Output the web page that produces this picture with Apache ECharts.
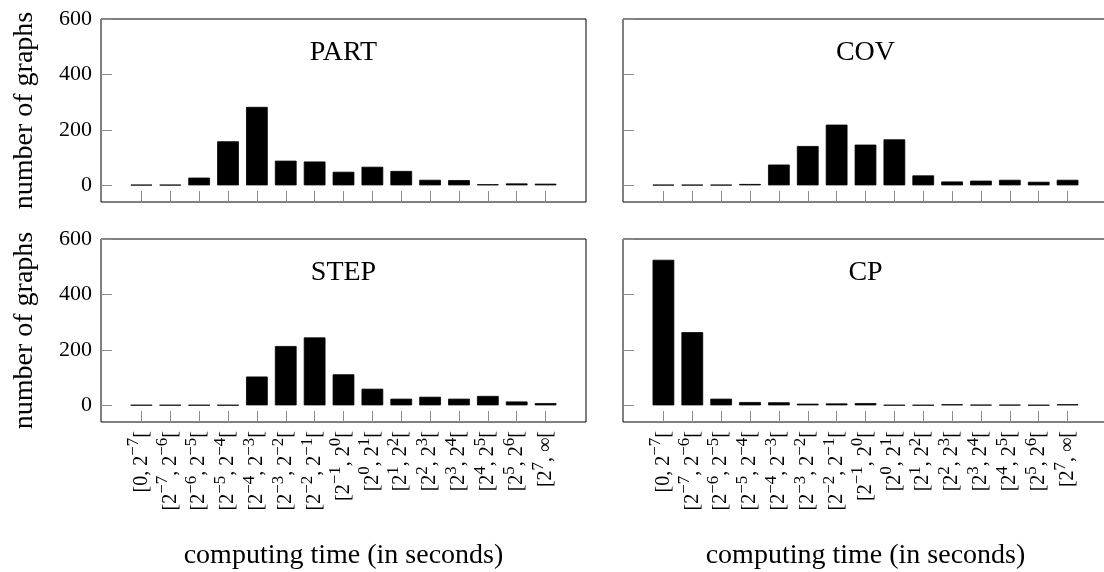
<!DOCTYPE html>
<html>
<head>
<meta charset="utf-8">
<script src="https://cdn.jsdelivr.net/npm/echarts@6.0.0/dist/echarts.min.js"></script>
<style>
  html, body { margin: 0; padding: 0; background: #fff; }
  #chart { width: 1104px; height: 572px; }
</style>
</head>
<body>
<div id="chart"></div>
<script>
// 计算时间区间（原图缺少 [2^6, 2^7[ 这一项，照原样保留）
var tickLabels = ['[0, 2^{−7}[', '[2^{−7}, 2^{−6}[', '[2^{−6}, 2^{−5}[', '[2^{−5}, 2^{−4}[',
  '[2^{−4}, 2^{−3}[', '[2^{−3}, 2^{−2}[', '[2^{−2}, 2^{−1}[', '[2^{−1}, 2^{0}[',
  '[2^{0}, 2^{1}[', '[2^{1}, 2^{2}[', '[2^{2}, 2^{3}[', '[2^{3}, 2^{4}[',
  '[2^{4}, 2^{5}[', '[2^{5}, 2^{6}[', '[2^{7}, ∞['];
var yTicks = [0, 200, 400, 600];

var panelNames = ['PART', 'COV', 'STEP', 'CP'];
var partValues = [2, 2, 28, 159, 283, 89, 86, 49, 67, 52, 20, 19, 4, 7, 6];
var covValues  = [2, 2, 2, 5, 75, 142, 219, 147, 166, 36, 14, 17, 20, 13, 20];
var stepValues = [1, 1, 1, 1, 104, 214, 245, 112, 60, 24, 31, 24, 34, 14, 8];
var cpValues   = [525, 264, 24, 12, 11, 6, 7, 8, 1, 1, 4, 2, 2, 1, 4];
var panelValues = [partValues, covValues, stepValues, cpValues];

var FONT = '"Liberation Serif", "DejaVu Serif", serif';
var tickIdx = tickLabels.map(function (s, i) { return i; });

function richLabel(s) {// 把 ^{..} 变成上标
  return '{n|' + s.replace(/\^\{([^}]*)\}/g, '}{s|$1}{n|') + '}';
}

var grids = [], xAxes = [], yAxes = [], series = [];
var pos = [[101, 19], [623, 19], [101, 239], [623, 239]];
for (var p = 0; p < 4; p++) {
  var isLeft = (p % 2 === 0), isBottom = (p >= 2);
  grids.push({
    left: pos[p][0], top: pos[p][1], width: 485, height: 183,
    show: true, borderColor: '#000', borderWidth: 1,
    outerBoundsMode: 'none'
  });
  xAxes.push({
    type: 'value', gridIndex: p, min: -1.4, max: 15.4,
    axisLine: {show: false, onZero: false},
    splitLine: {show: false},
    axisTick: {show: true, inside: true, length: 11, customValues: tickIdx,
      lineStyle: {color: '#8c8c8c', width: 1}},
    axisLabel: {
      show: isBottom, customValues: tickIdx, rotate: 90, margin: 9,
      fontFamily: FONT, color: '#000',
      formatter: function (v) { return richLabel(tickLabels[Math.round(v)]); },
      rich: {
        n: {fontFamily: FONT, fontSize: 20, lineHeight: 32, color: '#000'},
        s: {fontFamily: FONT, fontSize: 17, lineHeight: 15, verticalAlign: 'top', color: '#000'}
      }
    },
    name: isBottom ? 'computing time (in seconds)' : '',
    nameLocation: 'middle', nameGap: 120,
    nameTextStyle: {fontFamily: FONT, fontSize: 28, color: '#000'}
  });
  yAxes.push({
    type: 'value', gridIndex: p, min: -60, max: 600,
    axisLine: {show: false, onZero: false},
    splitLine: {show: false},
    axisTick: {show: true, inside: true, length: 11, customValues: yTicks,
      lineStyle: {color: '#8c8c8c', width: 1}},
    axisLabel: {show: isLeft, customValues: yTicks, margin: 9,
      fontFamily: FONT, fontSize: 22, color: '#000'},
    name: isLeft ? 'number of graphs' : '',
    nameLocation: 'middle', nameRotate: 90, nameGap: 62,
    nameTextStyle: {fontFamily: FONT, fontSize: 28, color: '#000'}
  });
  series.push({
    name: panelNames[p], type: 'bar', xAxisIndex: p, yAxisIndex: p,
    barWidth: 21.7, silent: true,
    itemStyle: {color: '#000', borderColor: '#000', borderWidth: 0.8},
    data: panelValues[p].map(function (v, i) { return [i, v]; })
  });
}

var myChart = echarts.init(document.getElementById('chart'));
myChart.setOption({
  animation: false,
  grid: grids,
  xAxis: xAxes,
  yAxis: yAxes,
  series: series
});

// 面板标题放在第 8 个区间正上方
var titles = [];
for (var k = 0; k < 4; k++) {
  var pt = myChart.convertToPixel({gridIndex: k}, [7, 478]);
  titles.push({
    type: 'text', x: pt[0], y: pt[1],
    style: {text: panelNames[k], fontFamily: FONT, fontSize: 28, fill: '#000',
      align: 'center', verticalAlign: 'middle'}
  });
}
myChart.setOption({graphic: titles});
</script>
</body>
</html>
